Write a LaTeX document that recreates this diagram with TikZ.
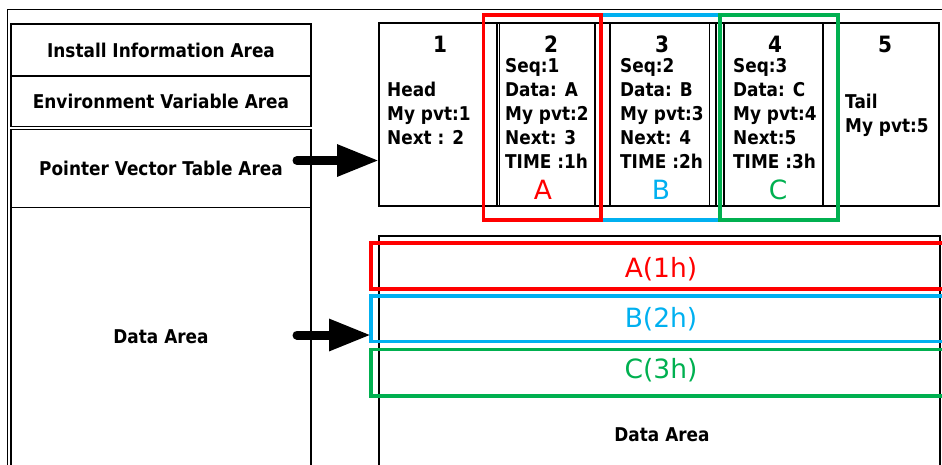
\documentclass[tikz,border=0pt]{standalone}
\usepackage{fontspec}
\setmainfont{DejaVu Sans}
\newfontfamily\condf{DejaVu Sans}[FakeStretch=0.89]
\usetikzlibrary{arrows.meta}
\definecolor{hlred}{RGB}{255,0,0}
\definecolor{hlblue}{RGB}{0,176,240}
\definecolor{hlgreen}{RGB}{0,176,80}
\begin{document}
\begin{tikzpicture}[x=1pt,y=-1pt,
  thinl/.style={line width=1.2pt},
  box/.style={draw, thinl, inner sep=0pt, outer sep=0pt, anchor=north west},
  hbox/.style={draw, line width=3.5pt, inner sep=0pt, outer sep=0pt, anchor=north west},
  lbl/.style={font=\condf\bfseries\fontsize{19}{22}\selectfont, inner sep=0pt},
  cl/.style={lbl, anchor=base west},
  num/.style={font=\condf\bfseries\fontsize{22.5}{26}\selectfont, inner sep=0pt},
  tag/.style={font=\fontsize{26.5}{30}\selectfont, inner sep=0pt, anchor=base},
  bigarrow/.style={line width=9pt, line cap=round, -{Triangle[length=42pt,width=30pt]}}]
\useasboundingbox (0,0) rectangle (942,464);
\clip (0,0) rectangle (942,464);
% outer frame
\draw[line width=1pt] (7,480) -- (7,9) -- (960,9);
% left column
\node[box, lbl, minimum width=300pt, minimum height=52pt] (inst) at (11,24) {Install Information Area};
\node[box, lbl, minimum width=300pt, minimum height=50.5pt] (env) at (11,76) {Environment Variable Area};
\node[box, lbl, minimum width=300pt, minimum height=78pt] (pvt) at (11,129.5) {Pointer Vector Table Area};
\node[box, lbl, minimum width=300pt, minimum height=259pt] (data) at (11,207.5) {Data Area};
% pointer vector table
\node[box, minimum width=560pt, minimum height=183pt] (pvtbox) at (379,23) {};
\foreach \xx in {497,499.5,595,610,709.5,716,724,823}
  \draw[thinl] (\xx,23) -- (\xx,206);
\node[num] (n1) at (440,44) {1};
\node[num] (n2) at (551,44) {2};
\node[num] (n3) at (662,44) {3};
\node[num] (n4) at (775,44) {4};
\node[num] (n5) at (885,44) {5};
% cell 1
\node[cl] (c1a) at (387,96) {Head};
\node[cl] (c1b) at (387,120) {My pvt:1};
\node[cl] (c1c) at (387,144) {Next : 2};
% cell 2
\node[cl] (c2a) at (505,72) {Seq:1};
\node[cl] (c2b) at (505,96) {Data: A};
\node[cl] (c2c) at (505,120) {My pvt:2};
\node[cl] (c2d) at (505,144) {Next: 3};
\node[cl] (c2e) at (505,168) {TIME :1h};
% cell 3
\node[cl] (c3a) at (620,72) {Seq:2};
\node[cl] (c3b) at (620,96) {Data: B};
\node[cl] (c3c) at (620,120) {My pvt:3};
\node[cl] (c3d) at (620,144) {Next: 4};
\node[cl] (c3e) at (620,168) {TIME :2h};
% cell 4
\node[cl] (c4a) at (733,72) {Seq:3};
\node[cl] (c4b) at (733,96) {Data: C};
\node[cl] (c4c) at (733,120) {My pvt:4};
\node[cl] (c4d) at (733,144) {Next:5};
\node[cl] (c4e) at (733,168) {TIME :3h};
% cell 5
\node[cl] (c5a) at (845,108) {Tail};
\node[cl] (c5b) at (845,132) {My pvt:5};
% tags
\node[tag, text=hlred] (ta) at (543,199) {A};
\node[tag, text=hlblue] (tb) at (661,199) {B};
\node[tag, text=hlgreen] (tc) at (778,199) {C};
% highlight boxes top
\node[hbox, draw=hlblue, minimum width=119pt, minimum height=205pt] (hb) at (601,15) {};
\node[hbox, draw=hlred, minimum width=117.5pt, minimum height=205pt] (hr) at (483.5,15) {};
\node[hbox, draw=hlgreen, minimum width=118pt, minimum height=205pt] (hg) at (720,15) {};
% data area right
\node[box, minimum width=561pt, minimum height=240pt] (dbox) at (379,236) {};
\node[lbl] (dtxt) at (662,435) {Data Area};
\node[hbox, draw=hlred, minimum width=590pt, minimum height=46pt] (ra) at (371,243) {};
\node[hbox, draw=hlblue, minimum width=590pt, minimum height=45.5pt] (rb) at (371,296) {};
\node[hbox, draw=hlgreen, minimum width=590pt, minimum height=46.5pt] (rc) at (371,349.5) {};
\node[tag, text=hlred] (la) at (661,277) {A(1h)};
\node[tag, text=hlblue] (lb) at (661,327) {B(2h)};
\node[tag, text=hlgreen] (lc) at (661,378) {C(3h)};
% arrows
\coordinate (a1s) at (297,160.5);
\coordinate (a2s) at (297,335);
\draw[bigarrow] (a1s) -- (pvtbox.west |- a1s);
\draw[bigarrow] (a2s) -- (rb.west |- a2s);
\end{tikzpicture}
\end{document}
